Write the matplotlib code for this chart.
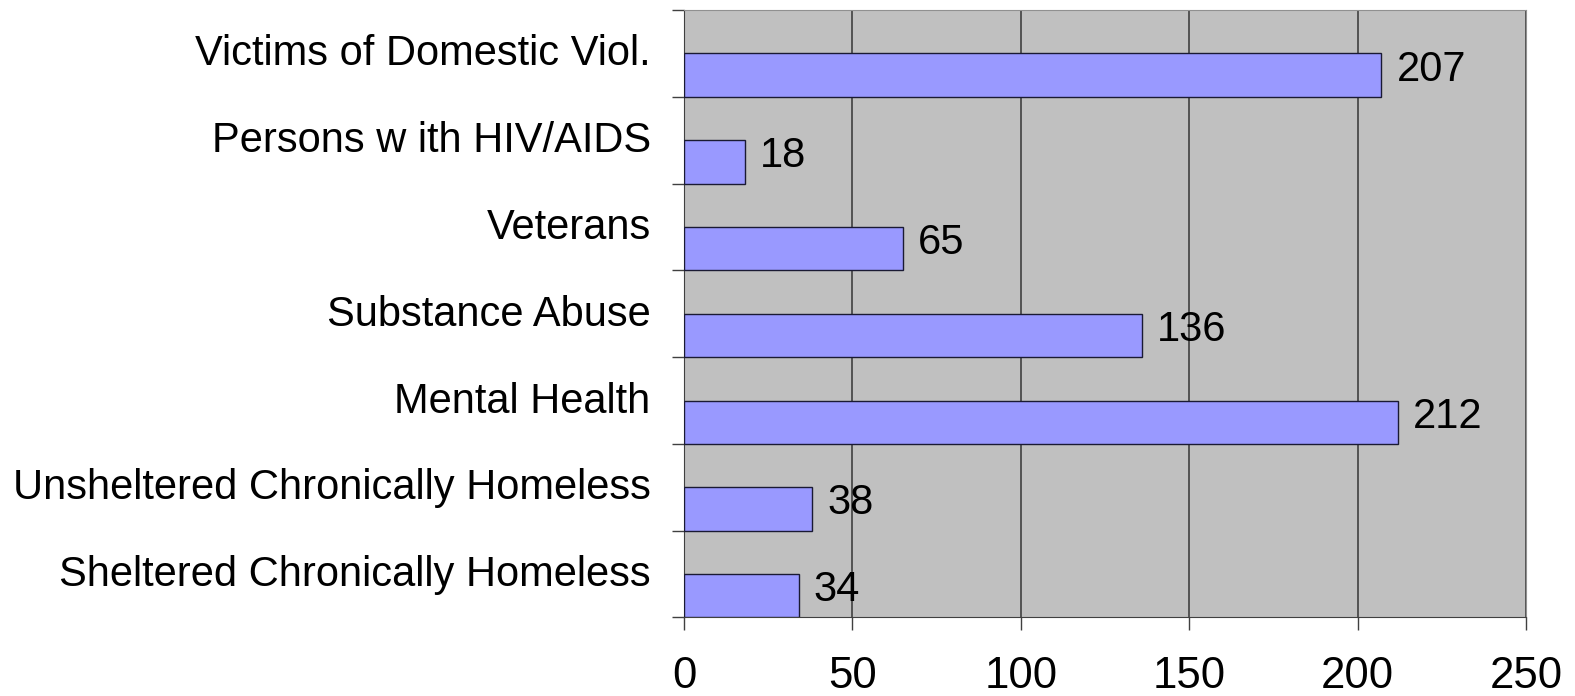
import matplotlib
matplotlib.use('Agg')
import matplotlib.pyplot as plt
from matplotlib.ticker import FixedLocator

# categories listed bottom to top, as drawn on the chart
categories = ['Sheltered Chronically Homeless', 'Unsheltered Chronically Homeless',
              'Mental Health', 'Substance Abuse', 'Veterans',
              'Persons w ith HIV/AIDS', 'Victims of Domestic Viol.']
counts = [34, 38, 212, 136, 65, 18, 207]
xticks = [0, 50, 100, 150, 200, 250]

plt.rcParams['font.family'] = ['Liberation Sans', 'DejaVu Sans']

fig = plt.figure(figsize=(15.75, 6.96), dpi=100)
ax = fig.add_axes([0.4343, 0.1128, 0.9689 - 0.4343, 0.9856 - 0.1128])
ax.set_facecolor('#C0C0C0')

pos = list(range(len(categories)))
# bars sit in the lower half of each category band
ax.barh([p - 0.25 for p in pos], counts, height=0.5, color='#9999FF',
        edgecolor='#1a1a33', linewidth=1, zorder=3)

for p, v in zip(pos, counts):
    ax.annotate(str(v), (v, p - 0.25), xytext=(11, 4), textcoords='offset points',
                ha='left', va='center', fontsize=30, zorder=4)

ax.set_xlim(0, 250)
ax.set_ylim(-0.5, len(categories) - 0.5)
ax.set_xticks(xticks)
ax.set_xticklabels([str(t) for t in xticks], fontsize=31.5)
ax.xaxis.grid(True, color='#404040', linewidth=1.2, zorder=1)
ax.set_axisbelow(True)

# ticks on band boundaries, labels at band centres
ax.yaxis.set_major_locator(FixedLocator([p - 0.5 for p in range(len(categories) + 1)]))
ax.set_yticklabels([])
ax.yaxis.set_minor_locator(FixedLocator([p + 0.04 for p in pos]))
ax.set_yticklabels(categories, minor=True, fontsize=30)
ax.tick_params(axis='y', which='minor', length=0, pad=24)
ax.tick_params(axis='y', which='major', length=9, width=1, color='#404040')
ax.tick_params(axis='x', length=9, width=1, color='#404040', pad=19)

for s in ['top', 'right']:
    ax.spines[s].set_color('#909090')
for s in ['left', 'bottom']:
    ax.spines[s].set_color('#404040')

fig.savefig('out.png', dpi=100)
